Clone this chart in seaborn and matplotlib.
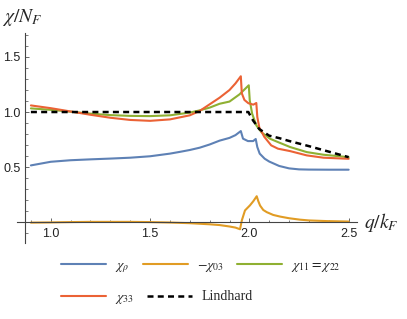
import numpy as np
import pandas as pd
import matplotlib.pyplot as plt
import seaborn as sns
from matplotlib.ticker import FixedLocator
from matplotlib.lines import Line2D

sns.set_style('white')
plt.rcParams['font.family'] = ['Liberation Sans', 'DejaVu Sans']
plt.rcParams['mathtext.fontset'] = 'stix'

##data (q/k_F , chi/N_F)
q_rho = [0.9, 1.0, 1.1, 1.2, 1.3, 1.4, 1.5, 1.6, 1.65, 1.7, 1.75, 1.8, 1.85, 1.9, 1.93, 1.957,
         1.968, 1.993, 2.019, 2.032, 2.04, 2.052, 2.077, 2.1, 2.15, 2.2, 2.25, 2.3, 2.4, 2.5]
chi_rho = [0.515, 0.548, 0.562, 0.57, 0.577, 0.585, 0.598, 0.622, 0.638, 0.655, 0.676, 0.705, 0.74, 0.765, 0.79, 0.827,
           0.758, 0.736, 0.736, 0.755, 0.682, 0.622, 0.576, 0.55, 0.51, 0.488, 0.479, 0.477, 0.476, 0.476]

q_03 = [0.9, 1.0, 1.1, 1.2, 1.3, 1.4, 1.5, 1.6, 1.7, 1.75, 1.8, 1.85, 1.9, 1.93, 1.953,
        1.962, 1.978, 2.003, 2.02, 2.037, 2.045, 2.054, 2.07, 2.088, 2.12, 2.155, 2.2, 2.255, 2.3, 2.39, 2.5]
chi_03 = [-0.005, -0.003, 0.0, 0.002, 0.002, 0.002, 0.0, -0.004, -0.01, -0.015, -0.02, -0.027, -0.04, -0.05, -0.065,
          0.015, 0.106, 0.152, 0.19, 0.235, 0.19, 0.15, 0.11, 0.09, 0.065, 0.05, 0.035, 0.022, 0.015, 0.009, 0.005]

q_11 = [0.9, 1.0, 1.1, 1.2, 1.3, 1.4, 1.5, 1.6, 1.7, 1.75, 1.8, 1.85, 1.9, 1.95, 1.997,
        2.002, 2.014, 2.035, 2.06, 2.103, 2.144, 2.205, 2.289, 2.373, 2.5]
chi_11 = [1.033, 1.02, 1.003, 0.985, 0.972, 0.965, 0.963, 0.97, 0.995, 1.015, 1.04, 1.075, 1.095, 1.16, 1.243,
          1.106, 0.985, 0.879, 0.818, 0.758, 0.727, 0.682, 0.636, 0.612, 0.59]

q_33 = [0.9, 1.0, 1.1, 1.2, 1.3, 1.4, 1.5, 1.6, 1.7, 1.75, 1.8, 1.85, 1.9, 1.93, 1.957,
        1.962, 1.975, 1.995, 2.02, 2.035, 2.04, 2.05, 2.075, 2.11, 2.144, 2.205, 2.289, 2.373, 2.5]
chi_33 = [1.06, 1.035, 1.005, 0.975, 0.948, 0.928, 0.92, 0.933, 0.97, 1.01, 1.07, 1.13, 1.2, 1.26, 1.325,
          1.17, 1.11, 1.08, 1.067, 1.082, 0.955, 0.86, 0.775, 0.697, 0.667, 0.645, 0.606, 0.585, 0.575]

q_lind = [0.9, 1.5, 1.995, 2.01, 2.02, 2.05, 2.1, 2.15, 2.2, 2.3, 2.4, 2.5]
chi_lind = [1.0, 1.0, 1.0, 0.95, 0.92, 0.845, 0.785, 0.763, 0.737, 0.69, 0.64, 0.59]

series = [(q_rho, chi_rho, '#5E81B5', r'$\chi_\rho$'),
          (q_03, chi_03, '#E19C24', r'$-\chi_{03}$'),
          (q_11, chi_11, '#8FB032', r'$\chi_{11}=\chi_{22}$'),
          (q_33, chi_33, '#EB6235', r'$\chi_{33}$')]

fig = plt.figure(figsize=(4.07, 3.19), dpi=100)
ax = fig.add_axes([17/407, 1-243/319, 340/407, 210/319])

handles = []
for qq, cc, col, lab in series:
    sns.lineplot(x=qq, y=cc, color=col, lw=1.5, ax=ax, sort=False, estimator=None)
    handles.append(Line2D([], [], color=col, lw=1.5, label=lab))
sns.lineplot(x=q_lind, y=chi_lind, color='black', lw=1.8, ax=ax, sort=False, estimator=None)
ax.lines[-1].set_dashes((2.4, 1.7))
lind_h = Line2D([], [], color='black', lw=1.8, dashes=(2.4, 1.7), label='Lindhard')

ax.set_xlim(0.83, 2.542)
ax.set_ylim(-0.19, 1.718)

##mathematica-like axes
ax.spines['top'].set_visible(False)
ax.spines['right'].set_visible(False)
ax.spines['left'].set_position(('data', 0.87))
ax.spines['bottom'].set_position(('data', 0))
for s in ['left', 'bottom']:
    ax.spines[s].set_color('#444444')
    ax.spines[s].set_linewidth(0.8)

ax.xaxis.set_major_locator(FixedLocator([1.0, 1.5, 2.0, 2.5]))
ax.xaxis.set_minor_locator(FixedLocator([v for v in np.round(np.arange(0.9, 2.45, 0.1), 1) if v not in (1.0, 1.5, 2.0)]))
ax.yaxis.set_major_locator(FixedLocator([0.5, 1.0, 1.5]))
ax.yaxis.set_minor_locator(FixedLocator([v for v in np.round(np.arange(-0.1, 1.75, 0.1), 1) if v not in (0.0, 0.5, 1.0, 1.5)]))
ax.set_xticklabels(['1.0', '1.5', '2.0', '2.5'])
ax.set_yticklabels(['0.5', '1.0', '1.5'])
ax.tick_params(which='both', bottom=True, left=True, direction='in', color='#666666', labelsize=9, labelcolor='#222222')
ax.tick_params(which='major', length=3.2, width=0.7)
ax.tick_params(which='minor', length=1.8, width=0.6)
ax.tick_params(axis='x', which='major', pad=4)
ax.tick_params(axis='y', which='major', pad=3)
ax.set_xlabel('')
ax.set_ylabel('')

fig.text(2/407, 1-17/319, r'$\chi/N_F$', fontsize=14, va='center', ha='left')
fig.text(364/407, 1-222/319, r'$q/k_F$', fontsize=14, va='center', ha='left')

##legend rows like mathematica
leg_kw = dict(frameon=False, handlelength=3.25, handletextpad=0.65, columnspacing=0.95,
              borderpad=0, borderaxespad=0, loc='center left', prop={'family': 'Liberation Serif', 'size': 10})
leg1 = fig.legend(handles=handles[:3], ncol=3, bbox_to_anchor=(61/407, 1-267/319), **leg_kw)
leg2 = fig.legend(handles=[handles[3], lind_h], ncol=2, bbox_to_anchor=(61/407, 1-298/319), **leg_kw)

fig.savefig('out.png', dpi=100)
